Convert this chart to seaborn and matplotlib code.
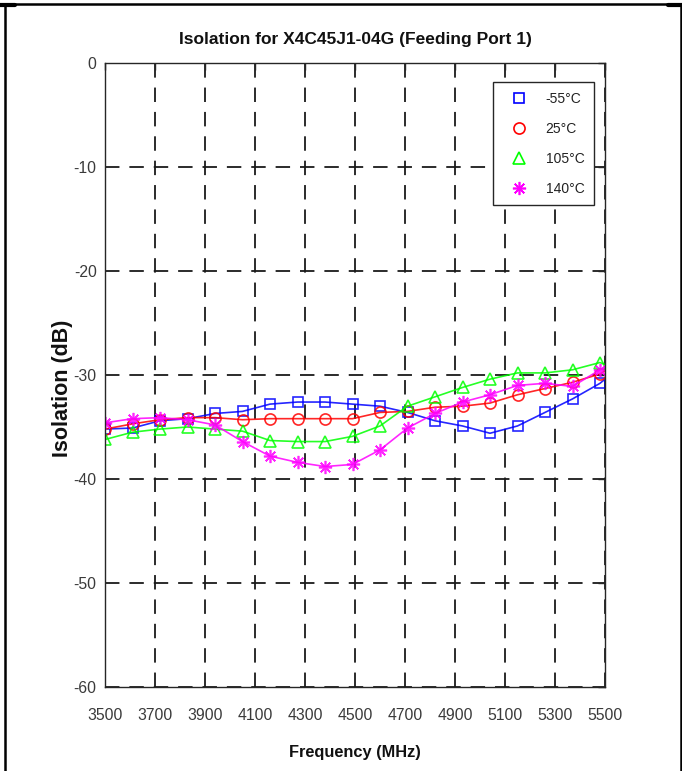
import matplotlib
matplotlib.use("Agg")
import matplotlib.pyplot as plt
from matplotlib.lines import Line2D
from matplotlib import font_manager
import seaborn as sns
import pandas as pd

# Measurement frequencies (MHz); markers on every point except the 5500 end point
freq_mhz = [3500, 3610, 3720, 3830, 3940, 4050, 4160, 4270, 4380, 4490,
            4600, 4710, 4820, 4930, 5040, 5150, 5260, 5370, 5480, 5500]

iso_m55 = [-35.2, -35.1, -34.4, -34.2, -33.7, -33.5, -32.8, -32.6, -32.6, -32.8,
           -33.0, -33.6, -34.4, -34.9, -35.6, -34.9, -33.6, -32.3, -30.8, -30.4]
iso_25 = [-35.2, -34.7, -34.3, -34.1, -34.1, -34.3, -34.2, -34.2, -34.2, -34.2,
          -33.6, -33.5, -33.1, -33.0, -32.7, -31.9, -31.3, -30.7, -29.9, -29.6]
iso_105 = [-36.2, -35.5, -35.2, -35.0, -35.2, -35.4, -36.3, -36.4, -36.4, -35.9,
           -34.9, -33.0, -32.1, -31.2, -30.4, -29.8, -29.8, -29.5, -28.8, -29.0]
iso_140 = [-34.6, -34.2, -34.1, -34.3, -34.8, -36.4, -37.8, -38.4, -38.8, -38.6,
           -37.2, -35.1, -33.7, -32.6, -31.9, -31.0, -30.8, -31.1, -29.5, -29.3]

labels = ["-55°C", "25°C", "105°C", "140°C"]
colors = ["#0000ff", "#ff0000", "#00ff00", "#ff00ff"]
markers = ["s", "o", "^", (8, 2, 0)]
msizes = [7, 8, 9, 9.5]

x_ticks = list(range(3500, 5501, 200))
y_ticks = list(range(-60, 1, 10))

sns.set_theme(style="white")
installed = {f.name for f in font_manager.fontManager.ttflist}
family = [f for f in ["Liberation Sans Narrow", "Liberation Sans", "DejaVu Sans"] if f in installed]
plt.rcParams["font.family"] = family
plt.rcParams["axes.unicode_minus"] = False

ink = "#262626"
tick_ink = "#3a3a3a"

fig = plt.figure(figsize=(6.82, 7.71), dpi=100)
ax = fig.add_axes([105 / 682, 1 - 687 / 771, 500 / 682, 624 / 771])

frames = []
for lab, vals in zip(labels, [iso_m55, iso_25, iso_105, iso_140]):
    frames.append(pd.DataFrame({"freq": freq_mhz, "iso": vals, "temp": lab}))
df = pd.concat(frames, ignore_index=True)

n_mark = len(freq_mhz) - 1
for lab, col, mk, ms in zip(labels, colors, markers, msizes):
    sub = df[df["temp"] == lab]
    sns.lineplot(data=sub, x="freq", y="iso", ax=ax, color=col, lw=1.2,
                 marker=mk, markersize=ms, markerfacecolor="none",
                 markeredgecolor=col, markeredgewidth=1.2,
                 markevery=slice(0, n_mark), estimator=None, sort=False,
                 legend=False, alpha=0.85)

ax.set_xlim(3500, 5500)
ax.set_ylim(-60, 0)
ax.set_xticks(x_ticks)
ax.set_yticks(y_ticks)
ax.grid(True, color="#1a1a1a", linestyle=(0, (8, 5.5)), linewidth=1.3)
ax.tick_params(direction="in", length=5, width=1, colors=ink, labelcolor=tick_ink,
               labelsize=11.3, top=True, right=True)
ax.tick_params(axis="x", pad=15)
ax.tick_params(axis="y", pad=6)
for sp in ax.spines.values():
    sp.set_color(ink)
    sp.set_linewidth(1.0)
    sp.set_visible(True)

ax.set_title("Isolation for X4C45J1-04G (Feeding Port 1)", fontsize=12.5,
             fontweight="bold", color="#111111", pad=14)
ax.set_xlabel("Frequency (MHz)", fontsize=11.8, fontweight="bold", color="#111111")
ax.set_ylabel("Isolation (dB)", fontsize=15.5, fontweight="bold", color="#111111")
ax.xaxis.set_label_coords(0.5, -0.093)
ax.yaxis.set_label_coords(-0.064, 0.478)

handles = [Line2D([], [], linestyle="none", marker=mk, markersize=ms,
                  markerfacecolor="none", markeredgecolor=col, markeredgewidth=1.2)
           for col, mk, ms in zip(colors, markers, msizes)]
leg = ax.legend(handles, labels, loc="upper right", bbox_to_anchor=(0.978, 0.9696),
                borderaxespad=0, fontsize=10, frameon=True, fancybox=False,
                labelspacing=1.15, handlelength=2.45, handletextpad=0.65,
                borderpad=0.7, framealpha=1)
leg.get_frame().set_edgecolor(ink)
leg.get_frame().set_linewidth(1.0)
for t in leg.get_texts():
    t.set_color("#222222")

# Outer page frame
fw = 1.8
fig.add_artist(Line2D([5 / 682, 5 / 682], [0, 1 - 4 / 771], color="black", lw=fw, transform=fig.transFigure))
fig.add_artist(Line2D([5 / 682, 681 / 682], [1 - 4 / 771, 1 - 4 / 771], color="black", lw=fw, transform=fig.transFigure))
fig.add_artist(Line2D([681 / 682, 681 / 682], [0, 1 - 4 / 771], color="black", lw=fw, transform=fig.transFigure))
fig.add_artist(Line2D([0, 15 / 682], [1 - 5 / 771, 1 - 5 / 771], color="black", lw=3, transform=fig.transFigure))
fig.add_artist(Line2D([668 / 682, 1], [1 - 5 / 771, 1 - 5 / 771], color="black", lw=3, transform=fig.transFigure))

fig.savefig("out.png", dpi=100)
